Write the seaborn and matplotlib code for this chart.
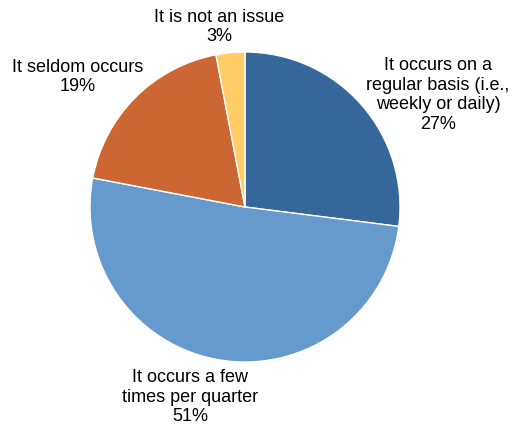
import matplotlib
matplotlib.use("Agg")
import matplotlib.pyplot as plt
import seaborn as sns

# ---- Dados ----
categorias = ["It occurs on a\nregular basis (i.e.,\nweekly or daily)",
              "It occurs a few\ntimes per quarter",
              "It seldom occurs",
              "It is not an issue"]
valores = [27, 51, 19, 3]
cores = ["#35679B", "#6699CC", "#CC6633", "#FFCC66"]

# posicao (em pixels) de cada rotulo
pos_rotulos = [(438, 95), (190, 397), (78, 77), (219, 27)]

sns.set_style("white")
plt.rcParams["font.family"] = ["Liberation Sans", "DejaVu Sans"]

fig = plt.figure(figsize=(5.11, 4.32), dpi=100)
ax = fig.add_axes([0, 0, 1, 1])

ax.pie(valores, colors=cores, startangle=90, counterclock=False,
       radius=155, center=(245, 432 - 207),
       wedgeprops={"edgecolor": "white", "linewidth": 1})

ax.set_xlim(0, 511)
ax.set_ylim(0, 432)
ax.set_aspect("equal")
ax.axis("off")

for cat, v, (x, y) in zip(categorias, valores, pos_rotulos):
    ax.text(x, 432 - y, f"{cat}\n{v}%", ha="center", va="center",
            fontsize=13, color="black", linespacing=1.2)

fig.savefig("out.png", dpi=100)
